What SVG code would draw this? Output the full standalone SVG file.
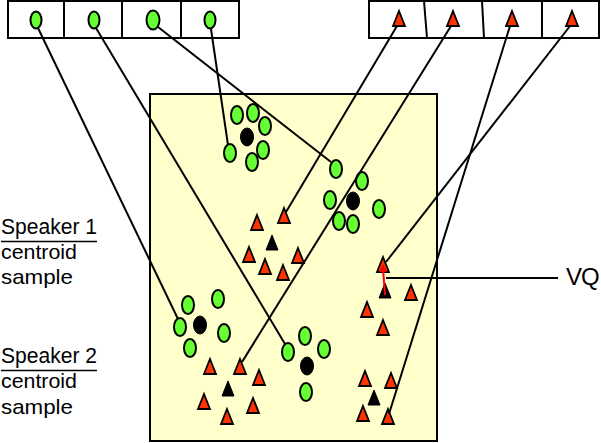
<svg xmlns="http://www.w3.org/2000/svg" width="601" height="443" viewBox="0 0 601 443">
<style>
.g{fill:#66FF33;stroke:#000;stroke-width:2}
.k{fill:#000;stroke:#000;stroke-width:1}
.t{fill:#FF3300;stroke:#000;stroke-width:1.8;stroke-linejoin:miter}
.kt{fill:#000;stroke:#000;stroke-width:1}
.box{fill:#fff;stroke:#000;stroke-width:2}
.ln{stroke:#000;stroke-width:2;fill:none}
.lbl{font-family:"Liberation Sans",Arial,sans-serif;font-size:21px;fill:#000}
.hd{font-size:22px}
</style>
<defs>
<path id="tri" d="M0,0 L6,15 L-6,15 Z"/>
<marker id="ra" viewBox="0 0 6 6" refX="3" refY="3" markerWidth="4" markerHeight="4" orient="auto"><path d="M0,0 L6,3 L0,6 Z" fill="#FF0000"/></marker>
</defs>

<g id="box-left">
<rect class="box" x="8" y="1" width="231" height="37"/>
<line class="ln" x1="64" y1="1" x2="64" y2="38"/>
<line class="ln" x1="122" y1="1" x2="122" y2="38"/>
<line class="ln" x1="181" y1="1" x2="181" y2="38"/>
<ellipse class="g" cx="36" cy="20" rx="5.5" ry="8.5"/>
<ellipse class="g" cx="94" cy="20" rx="5.5" ry="8.5"/>
<ellipse class="g" cx="153" cy="20" rx="6.5" ry="9.5"/>
<ellipse class="g" cx="210" cy="20" rx="5.5" ry="8.5"/>
</g>

<g id="box-right">
<rect class="box" x="369" y="1" width="230" height="37"/>
<line class="ln" x1="424" y1="1" x2="427" y2="38"/>
<line class="ln" x1="482" y1="1" x2="484" y2="38"/>
<line class="ln" x1="542" y1="1" x2="542" y2="38"/>
<use href="#tri" class="t" x="399" y="11"/>
<use href="#tri" class="t" x="453" y="11"/>
<use href="#tri" class="t" x="512" y="11"/>
<use href="#tri" class="t" x="572" y="11"/>
</g>

<g id="space">
<rect x="150" y="94" width="287" height="347" fill="#FFFFCC" stroke="#000" stroke-width="2"/>
</g>

<g id="cluster-green-1">
<ellipse class="g" cx="237" cy="115" rx="6" ry="9"/>
<ellipse class="g" cx="253" cy="113" rx="6" ry="9"/>
<ellipse class="g" cx="265" cy="126" rx="6" ry="9"/>
<ellipse class="k" cx="247" cy="137" rx="6.5" ry="9"/>
<ellipse class="g" cx="230" cy="153" rx="6" ry="9"/>
<ellipse class="g" cx="263" cy="150" rx="6" ry="9"/>
<ellipse class="g" cx="252" cy="162" rx="6" ry="9"/>
</g>

<g id="cluster-green-2">
<ellipse class="g" cx="336" cy="169" rx="6" ry="9"/>
<ellipse class="g" cx="362" cy="181" rx="6" ry="9"/>
<ellipse class="g" cx="330" cy="200" rx="6" ry="9"/>
<ellipse class="k" cx="353" cy="201" rx="6.5" ry="9"/>
<ellipse class="g" cx="379" cy="209" rx="6" ry="9"/>
<ellipse class="g" cx="339" cy="221" rx="6" ry="9"/>
<ellipse class="g" cx="353" cy="224" rx="6" ry="9"/>
</g>

<g id="cluster-green-3">
<ellipse class="g" cx="188" cy="305" rx="6" ry="9"/>
<ellipse class="g" cx="218" cy="299" rx="6" ry="9"/>
<ellipse class="g" cx="180" cy="327" rx="6" ry="9"/>
<ellipse class="k" cx="200" cy="325" rx="6.5" ry="9"/>
<ellipse class="g" cx="224" cy="333" rx="6" ry="9"/>
<ellipse class="g" cx="190" cy="348" rx="6" ry="9"/>
</g>

<g id="cluster-green-4">
<ellipse class="g" cx="305" cy="336" rx="6" ry="9"/>
<ellipse class="g" cx="288" cy="352" rx="6" ry="9"/>
<ellipse class="g" cx="324" cy="349" rx="6" ry="9"/>
<ellipse class="k" cx="307" cy="366" rx="6.5" ry="9"/>
<ellipse class="g" cx="306" cy="392" rx="6" ry="9"/>
</g>

<g id="cluster-red-1">
<use href="#tri" class="t" x="257" y="215"/>
<use href="#tri" class="t" x="284" y="208"/>
<use href="#tri" class="kt" x="272" y="235"/>
<use href="#tri" class="t" x="249" y="247"/>
<use href="#tri" class="t" x="298" y="248"/>
<use href="#tri" class="t" x="265" y="259"/>
<use href="#tri" class="t" x="283" y="265"/>
</g>

<g id="cluster-red-2">
<use href="#tri" class="t" x="383" y="257"/>
<use href="#tri" class="kt" x="385" y="283"/>
<use href="#tri" class="t" x="411" y="285"/>
<use href="#tri" class="t" x="367" y="302"/>
<use href="#tri" class="t" x="383" y="320"/>
</g>

<g id="cluster-red-3">
<use href="#tri" class="t" x="210" y="359"/>
<use href="#tri" class="t" x="240" y="359"/>
<use href="#tri" class="t" x="259" y="370"/>
<use href="#tri" class="kt" x="228" y="381"/>
<use href="#tri" class="t" x="204" y="394"/>
<use href="#tri" class="t" x="253" y="398"/>
<use href="#tri" class="t" x="227" y="409"/>
</g>

<g id="cluster-red-4">
<use href="#tri" class="t" x="365" y="371"/>
<use href="#tri" class="t" x="391" y="373"/>
<use href="#tri" class="kt" x="374" y="390"/>
<use href="#tri" class="t" x="363" y="406"/>
<use href="#tri" class="t" x="388" y="409"/>
</g>

<g id="connectors">
<line class="ln" x1="38" y1="28" x2="178" y2="319"/>
<line class="ln" x1="96" y1="28" x2="285" y2="344"/>
<line class="ln" x1="158" y1="27" x2="331" y2="162"/>
<line class="ln" x1="211" y1="29" x2="228" y2="145"/>
<line class="ln" x1="397" y1="26" x2="286" y2="212"/>
<line class="ln" x1="451" y1="26" x2="242" y2="362"/>
<line class="ln" x1="510" y1="26" x2="389" y2="414"/>
<line class="ln" x1="570" y1="26" x2="386" y2="262"/>
<line class="ln" x1="386" y1="278" x2="558" y2="278"/>
<line x1="385" y1="295" x2="383" y2="268" stroke="#FF0000" stroke-width="2" marker-end="url(#ra)"/>
</g>

<g id="labels">
<text class="lbl hd" x="1" y="234" textLength="96" lengthAdjust="spacingAndGlyphs">Speaker 1</text>
<line x1="1" y1="241.5" x2="97" y2="241.5" stroke="#000" stroke-width="1.5"/>
<text class="lbl" x="1" y="259" textLength="76" lengthAdjust="spacingAndGlyphs">centroid</text>
<text class="lbl" x="1" y="284" textLength="72" lengthAdjust="spacingAndGlyphs">sample</text>
<text class="lbl hd" x="1" y="363" textLength="96" lengthAdjust="spacingAndGlyphs">Speaker 2</text>
<line x1="1" y1="370.5" x2="97" y2="370.5" stroke="#000" stroke-width="1.5"/>
<text class="lbl" x="1" y="388" textLength="76" lengthAdjust="spacingAndGlyphs">centroid</text>
<text class="lbl" x="1" y="414" textLength="72" lengthAdjust="spacingAndGlyphs">sample</text>
<text class="lbl" x="566" y="285" style="font-size:24px;letter-spacing:-1px">VQ</text>
</g>
</svg>
